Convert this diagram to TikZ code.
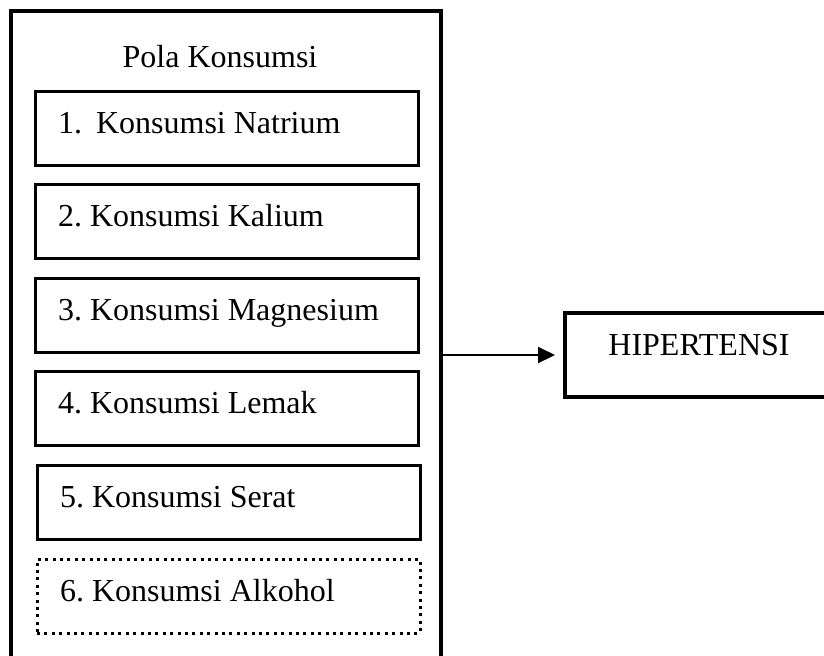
\documentclass[tikz,border=0pt]{standalone}
\usepackage{fontspec}
\setmainfont{Liberation Serif}
\usetikzlibrary{positioning,arrows.meta}

\begin{document}
\begin{tikzpicture}[x=0.5pt,y=-0.5pt,node distance=46.8pt,
            every node/.style={font=\fontsize{16}{19}\selectfont},
            item node/.style={rectangle,draw,line width=1.5pt,text width=168.5pt,align=left,
                inner xsep=11.5pt,inner ysep=0pt,text height=21pt,text depth=16pt,
                execute at begin node={\frenchspacing\spaceskip=0pt\xspaceskip=0pt}},
            outer node/.style={rectangle,draw,line width=1.7pt,minimum width=215pt,minimum height=329.5pt},
            hip node/.style={rectangle,draw,line width=2pt,minimum width=134pt,inner ysep=0pt,
                text height=21pt,text depth=21pt}]

        \useasboundingbox (0,0) rectangle (824,655);

        % Define vertices
        \node[outer node] (pola) at (226,340.5) {};
        \node (judul) at (220,67) [anchor=base] {Pola Konsumsi};
        \node[item node] (natrium) at (226.5,128) {1.\hspace{0.44em}Konsumsi Natrium};
        \node[item node] (kalium) [below of=natrium] {2. Konsumsi Kalium};
        \node[item node] (magnesium) [below of=kalium] {3. Konsumsi Magnesium};
        \node[item node] (lemak) [below of=magnesium] {4. Konsumsi Lemak};
        \node[item node] (serat) [below of=lemak,xshift=1pt] {5. Konsumsi Serat};
        \node[item node,line width=1.5pt,dash pattern=on 1.5pt off 2.2pt] (alkohol) [below of=serat] {6. Konsumsi Alkohol};
        \node[hip node] (hip) at (699,355) {HIPERTENSI};

        % Draw edges
        \draw[-{Triangle[length=8.5pt,width=8pt]},line width=1pt,shorten >=4pt]
            (pola.east |- hip.west) -- (hip.west);

\end{tikzpicture}
\end{document}
